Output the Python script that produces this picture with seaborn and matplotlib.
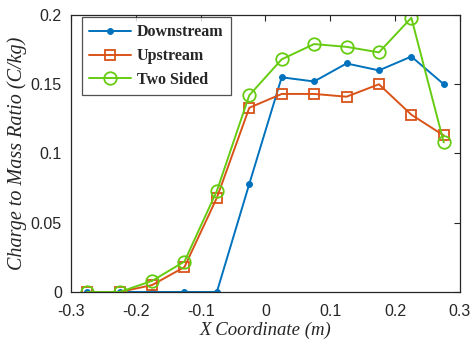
import matplotlib
matplotlib.use("Agg")
import matplotlib.pyplot as plt
import seaborn as sns
import pandas as pd

# Sampling positions along the channel (m)
x_coord = [-0.275, -0.225, -0.175, -0.125, -0.075, -0.025,
           0.025, 0.075, 0.125, 0.175, 0.225, 0.275]

# Charge-to-mass ratio per configuration (C/kg)
downstream = [0.0, 0.0, 0.0, 0.0, 0.0, 0.078,
              0.155, 0.152, 0.165, 0.160, 0.170, 0.150]
upstream = [0.0, 0.0, 0.005, 0.018, 0.068, 0.133,
            0.143, 0.143, 0.141, 0.150, 0.128, 0.113]
two_sided = [0.0, 0.0, 0.008, 0.022, 0.073, 0.142,
             0.168, 0.179, 0.177, 0.173, 0.198, 0.108]

series_names = ["Downstream", "Upstream", "Two Sided"]
x_ticks = [-0.3, -0.2, -0.1, 0, 0.1, 0.2, 0.3]
x_tick_labels = ["-0.3", "-0.2", "-0.1", "0", "0.1", "0.2", "0.3"]
y_ticks = [0, 0.05, 0.1, 0.15, 0.2]
y_tick_labels = ["0", "0.05", "0.1", "0.15", "0.2"]

sns.set_theme(style="white")
plt.rcParams["font.family"] = ["Liberation Sans", "DejaVu Sans"]

fig = plt.figure(figsize=(4.71, 3.47), dpi=100)
ax = fig.add_axes([0.1507, 0.1585, 0.8259, 0.7983])

styles = {
    "Downstream": dict(color="#0072BD", marker="o", markersize=4.2,
                       markerfacecolor="#0072BD", markeredgecolor="#0072BD"),
    "Upstream": dict(color="#D95319", marker="s", markersize=6.8,
                     markerfacecolor="none", markeredgecolor="#D95319",
                     markeredgewidth=1.3),
    "Two Sided": dict(color="#66CC11", marker="o", markersize=9.0,
                      markerfacecolor="none", markeredgecolor="#66CC11",
                      markeredgewidth=1.3),
}

for name, vals in zip(series_names, [downstream, upstream, two_sided]):
    df = pd.DataFrame({"x": x_coord, "y": vals})
    sns.lineplot(data=df, x="x", y="y", ax=ax, label=name,
                 linewidth=1.4, **styles[name])

ax.set_xlim(-0.3, 0.3)
ax.set_ylim(0, 0.2)
ax.set_xticks(x_ticks)
ax.set_xticklabels(x_tick_labels)
ax.set_yticks(y_ticks)
ax.set_yticklabels(y_tick_labels)
ax.tick_params(direction="in", length=4, width=0.8, colors="#262626",
               labelsize=11.5, top=True, right=True)
ax.tick_params(axis="x", pad=8.5)
ax.tick_params(axis="y", pad=6.5)
for lbl in ax.get_xticklabels() + ax.get_yticklabels():
    lbl.set_color("#262626")
for sp in ax.spines.values():
    sp.set_color("#262626")
    sp.set_linewidth(0.9)

label_font = dict(family="Liberation Serif", style="italic", color="#262626")
xl = ax.set_xlabel("X Coordinate (m)", fontdict=label_font, size=13.5,
                   labelpad=2)
yl = ax.set_ylabel("Charge to Mass Ratio (C/kg)", fontdict=label_font,
                   size=14.5, labelpad=2.5)

leg = ax.legend(loc="upper left", bbox_to_anchor=(0.028, 0.993),
                prop=dict(family="Liberation Serif", weight="bold", size=11.5),
                frameon=True, fancybox=False, handlelength=2.6,
                handletextpad=0.4, borderpad=0.45, labelspacing=0.5,
                borderaxespad=0.0)
leg.get_frame().set_edgecolor("#262626")
leg.get_frame().set_linewidth(0.9)

fig.savefig("out.png", dpi=100)
